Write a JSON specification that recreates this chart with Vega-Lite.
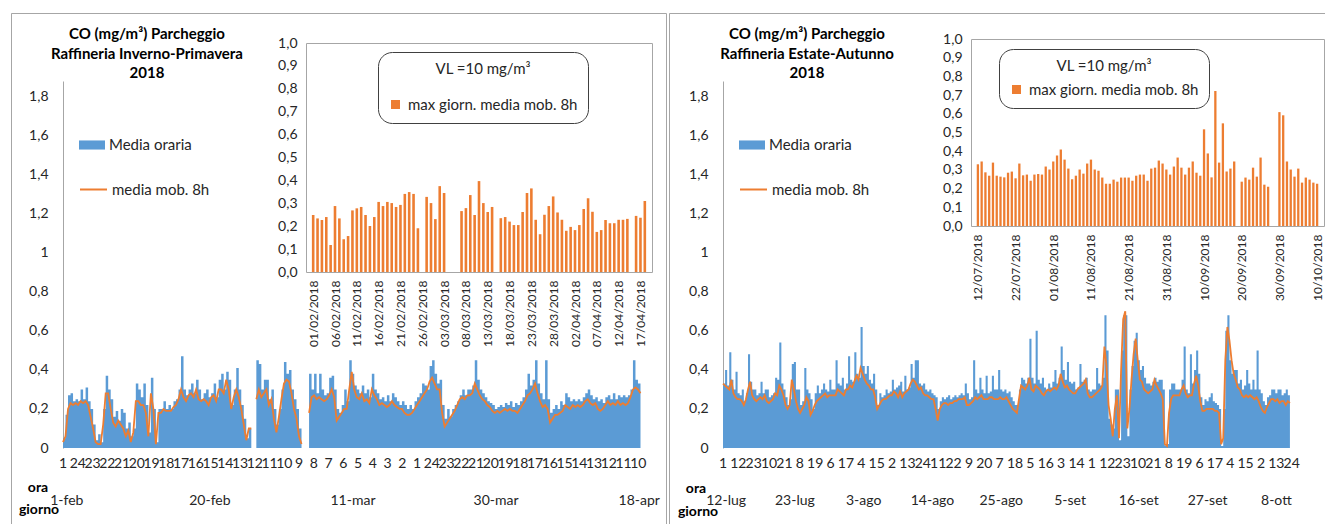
{
"$schema":"https://vega.github.io/schema/vega-lite/v6.json",
"background":"white",
"padding":{"left":10,"top":12,"right":0,"bottom":0},
"config":{"font":"Lato","view":{"stroke":null},
"locale":{"number":{"decimal":",","thousands":".","grouping":[3],"currency":["€",""]}},
"axis":{"labelFont":"Lato","labelColor":"#262626"},
"legend":{"labelFont":"Lato","titleFont":"Lato","labelColor":"#262626","titleColor":"#262626","labelLimit":400}},
"datasets":{
"mainL":[{"i":0,"h":0.05,"m":0.03},{"i":8,"h":0.17,"m":0.06},{"i":16,"h":0.27,"m":0.2},{"i":24,"h":0.28,"m":0.23},{"i":32,"h":0.24,"m":0.22},{"i":40,"h":0.25,"m":0.23},{"i":48,"h":0.24,"m":0.22},{"i":56,"h":0.3,"m":0.24},{"i":64,"h":0.25,"m":0.23},{"i":72,"h":0.31,"m":0.24},{"i":80,"h":0.24,"m":0.22},{"i":88,"h":0.2,"m":0.16},{"i":96,"h":0.12,"m":0.1},{"i":104,"h":0.04,"m":0.03},{"i":112,"h":0.07,"m":0.02},{"i":120,"h":0.03,"m":0.02},{"i":128,"h":0.2,"m":0.12},{"i":136,"h":0.37,"m":0.28},{"i":144,"h":0.3,"m":0.28},{"i":152,"h":0.25,"m":0.2},{"i":160,"h":0.16,"m":0.13},{"i":168,"h":0.19,"m":0.11},{"i":176,"h":0.14,"m":0.14},{"i":184,"h":0.2,"m":0.12},{"i":192,"h":0.18,"m":0.1},{"i":200,"h":0.1,"m":0.06},{"i":208,"h":0.13,"m":0.09},{"i":216,"h":0.06,"m":0.03},{"i":224,"h":0.1,"m":0.08},{"i":232,"h":0.33,"m":0.24},{"i":240,"h":0.3,"m":0.24},{"i":248,"h":0.26,"m":0.22},{"i":256,"h":0.33,"m":0.22},{"i":264,"h":0.22,"m":0.18},{"i":272,"h":0.08,"m":0.06},{"i":280,"h":0.36,"m":0.28},{"i":288,"h":0.2,"m":0.2},{"i":296,"h":0.03,"m":0.02},{"i":304,"h":0.2,"m":0.18},{"i":312,"h":0.2,"m":0.18},{"i":320,"h":0.24,"m":0.2},{"i":328,"h":0.2,"m":0.19},{"i":336,"h":0.22,"m":0.19},{"i":344,"h":0.2,"m":0.19},{"i":352,"h":0.24,"m":0.21},{"i":360,"h":0.25,"m":0.22},{"i":368,"h":0.3,"m":0.25},{"i":376,"h":0.47,"m":0.3},{"i":384,"h":0.3,"m":0.26},{"i":392,"h":0.27,"m":0.24},{"i":400,"h":0.3,"m":0.27},{"i":408,"h":0.33,"m":0.28},{"i":416,"h":0.28,"m":0.26},{"i":424,"h":0.35,"m":0.3},{"i":432,"h":0.3,"m":0.25},{"i":440,"h":0.25,"m":0.24},{"i":448,"h":0.28,"m":0.25},{"i":456,"h":0.3,"m":0.24},{"i":464,"h":0.26,"m":0.22},{"i":472,"h":0.28,"m":0.26},{"i":480,"h":0.33,"m":0.27},{"i":488,"h":0.26,"m":0.24},{"i":496,"h":0.35,"m":0.3},{"i":504,"h":0.38,"m":0.3},{"i":512,"h":0.3,"m":0.28},{"i":520,"h":0.39,"m":0.35},{"i":528,"h":0.35,"m":0.3},{"i":536,"h":0.22,"m":0.2},{"i":544,"h":0.3,"m":0.26},{"i":552,"h":0.41,"m":0.3},{"i":560,"h":0.3,"m":0.26},{"i":568,"h":0.22,"m":0.2},{"i":576,"h":0.15,"m":0.12},{"i":584,"h":0.05,"m":0.04},{"i":592,"h":0.1,"m":0.1},{"i":600,"h":0.1,"m":0.1},{"i":608,"h":null,"m":null},{"i":616,"h":0.45,"m":0.25},{"i":624,"h":0.43,"m":0.3},{"i":632,"h":0.3,"m":0.26},{"i":640,"h":0.35,"m":0.28},{"i":648,"h":0.35,"m":0.3},{"i":656,"h":0.25,"m":0.22},{"i":664,"h":0.3,"m":0.25},{"i":672,"h":0.2,"m":0.15},{"i":680,"h":0.12,"m":0.08},{"i":688,"h":0.2,"m":0.16},{"i":696,"h":0.3,"m":0.25},{"i":704,"h":0.44,"m":0.33},{"i":712,"h":0.38,"m":0.35},{"i":720,"h":0.4,"m":0.34},{"i":728,"h":0.3,"m":0.28},{"i":736,"h":0.25,"m":0.2},{"i":744,"h":0.2,"m":0.15},{"i":752,"h":0.1,"m":0.06},{"i":760,"h":0.05,"m":0.02},{"i":768,"h":null,"m":null},{"i":776,"h":null,"m":null},{"i":784,"h":0.38,"m":0.18},{"i":792,"h":0.3,"m":0.26},{"i":800,"h":0.38,"m":0.27},{"i":808,"h":0.28,"m":0.25},{"i":816,"h":0.38,"m":0.26},{"i":824,"h":0.3,"m":0.25},{"i":832,"h":0.27,"m":0.24},{"i":840,"h":0.28,"m":0.25},{"i":848,"h":0.36,"m":0.27},{"i":856,"h":0.37,"m":0.3},{"i":864,"h":0.3,"m":0.26},{"i":872,"h":0.2,"m":0.14},{"i":880,"h":0.18,"m":0.16},{"i":888,"h":0.22,"m":0.18},{"i":896,"h":0.3,"m":0.2},{"i":904,"h":0.24,"m":0.2},{"i":912,"h":0.45,"m":0.3},{"i":920,"h":0.38,"m":0.39},{"i":928,"h":0.32,"m":0.3},{"i":936,"h":0.3,"m":0.26},{"i":944,"h":0.28,"m":0.25},{"i":952,"h":0.32,"m":0.28},{"i":960,"h":0.28,"m":0.24},{"i":968,"h":0.3,"m":0.25},{"i":976,"h":0.26,"m":0.23},{"i":984,"h":0.38,"m":0.3},{"i":992,"h":0.3,"m":0.27},{"i":1000,"h":0.28,"m":0.25},{"i":1008,"h":0.25,"m":0.22},{"i":1016,"h":0.26,"m":0.23},{"i":1024,"h":0.24,"m":0.22},{"i":1032,"h":0.27,"m":0.21},{"i":1040,"h":0.24,"m":0.22},{"i":1048,"h":0.28,"m":0.24},{"i":1056,"h":0.26,"m":0.22},{"i":1064,"h":0.24,"m":0.21},{"i":1072,"h":0.22,"m":0.2},{"i":1080,"h":0.24,"m":0.2},{"i":1088,"h":0.22,"m":0.18},{"i":1096,"h":0.2,"m":0.17},{"i":1104,"h":0.22,"m":0.17},{"i":1112,"h":0.2,"m":0.18},{"i":1120,"h":0.24,"m":0.2},{"i":1128,"h":0.26,"m":0.22},{"i":1136,"h":0.28,"m":0.24},{"i":1144,"h":0.33,"m":0.26},{"i":1152,"h":0.32,"m":0.28},{"i":1160,"h":0.3,"m":0.3},{"i":1168,"h":0.42,"m":0.34},{"i":1176,"h":0.45,"m":0.36},{"i":1184,"h":0.38,"m":0.33},{"i":1192,"h":0.33,"m":0.3},{"i":1200,"h":0.35,"m":0.3},{"i":1208,"h":0.22,"m":0.18},{"i":1216,"h":0.15,"m":0.11},{"i":1224,"h":0.2,"m":0.13},{"i":1232,"h":0.16,"m":0.15},{"i":1240,"h":0.2,"m":0.17},{"i":1248,"h":0.22,"m":0.19},{"i":1256,"h":0.24,"m":0.22},{"i":1264,"h":0.27,"m":0.25},{"i":1272,"h":0.3,"m":0.26},{"i":1280,"h":0.27,"m":0.25},{"i":1288,"h":0.3,"m":0.27},{"i":1296,"h":0.3,"m":0.27},{"i":1304,"h":0.32,"m":0.28},{"i":1312,"h":0.45,"m":0.33},{"i":1320,"h":0.35,"m":0.3},{"i":1328,"h":0.3,"m":0.27},{"i":1336,"h":0.28,"m":0.25},{"i":1344,"h":0.26,"m":0.24},{"i":1352,"h":0.24,"m":0.22},{"i":1360,"h":0.23,"m":0.21},{"i":1368,"h":0.22,"m":0.19},{"i":1376,"h":0.2,"m":0.18},{"i":1384,"h":0.21,"m":0.19},{"i":1392,"h":0.22,"m":0.18},{"i":1400,"h":0.21,"m":0.19},{"i":1408,"h":0.23,"m":0.2},{"i":1416,"h":0.22,"m":0.19},{"i":1424,"h":0.24,"m":0.2},{"i":1432,"h":0.21,"m":0.19},{"i":1440,"h":0.23,"m":0.19},{"i":1448,"h":0.22,"m":0.18},{"i":1456,"h":0.24,"m":0.2},{"i":1464,"h":0.26,"m":0.22},{"i":1472,"h":0.3,"m":0.24},{"i":1480,"h":0.38,"m":0.27},{"i":1488,"h":0.32,"m":0.28},{"i":1496,"h":0.35,"m":0.3},{"i":1504,"h":0.45,"m":0.33},{"i":1512,"h":0.33,"m":0.28},{"i":1520,"h":0.28,"m":0.24},{"i":1528,"h":0.25,"m":0.21},{"i":1536,"h":0.45,"m":0.22},{"i":1544,"h":0.25,"m":0.2},{"i":1552,"h":0.18,"m":0.13},{"i":1560,"h":0.2,"m":0.15},{"i":1568,"h":0.22,"m":0.17},{"i":1576,"h":0.2,"m":0.17},{"i":1584,"h":0.24,"m":0.18},{"i":1592,"h":0.22,"m":0.19},{"i":1600,"h":0.28,"m":0.22},{"i":1608,"h":0.26,"m":0.21},{"i":1616,"h":0.24,"m":0.2},{"i":1624,"h":0.25,"m":0.22},{"i":1632,"h":0.24,"m":0.21},{"i":1640,"h":0.25,"m":0.22},{"i":1648,"h":0.24,"m":0.21},{"i":1656,"h":0.26,"m":0.22},{"i":1664,"h":0.28,"m":0.24},{"i":1672,"h":0.3,"m":0.25},{"i":1680,"h":0.27,"m":0.23},{"i":1688,"h":0.25,"m":0.22},{"i":1696,"h":0.26,"m":0.23},{"i":1704,"h":0.24,"m":0.2},{"i":1712,"h":0.25,"m":0.19},{"i":1720,"h":0.23,"m":0.2},{"i":1728,"h":0.26,"m":0.22},{"i":1736,"h":0.27,"m":0.24},{"i":1744,"h":0.25,"m":0.22},{"i":1752,"h":0.28,"m":0.23},{"i":1760,"h":0.25,"m":0.22},{"i":1768,"h":0.27,"m":0.24},{"i":1776,"h":0.26,"m":0.22},{"i":1784,"h":0.27,"m":0.23},{"i":1792,"h":0.26,"m":0.22},{"i":1800,"h":0.27,"m":0.23},{"i":1808,"h":0.3,"m":0.26},{"i":1816,"h":0.45,"m":0.3},{"i":1824,"h":0.35,"m":0.31},{"i":1832,"h":0.33,"m":0.3},{"i":1840,"h":0.3,"m":0.28}],
"mainR":[{"i":0,"h":0.33,"m":0.33},{"i":8,"h":0.4,"m":0.32},{"i":16,"h":0.32,"m":0.31},{"i":24,"h":0.49,"m":0.3},{"i":32,"h":0.35,"m":0.35},{"i":40,"h":0.3,"m":0.28},{"i":48,"h":0.39,"m":0.26},{"i":56,"h":0.28,"m":0.25},{"i":64,"h":0.27,"m":0.25},{"i":72,"h":0.3,"m":0.24},{"i":80,"h":0.24,"m":0.22},{"i":88,"h":0.28,"m":0.25},{"i":96,"h":0.48,"m":0.3},{"i":104,"h":0.34,"m":0.34},{"i":112,"h":0.3,"m":0.27},{"i":120,"h":0.3,"m":0.25},{"i":128,"h":0.27,"m":0.24},{"i":136,"h":0.28,"m":0.25},{"i":144,"h":0.34,"m":0.26},{"i":152,"h":0.28,"m":0.25},{"i":160,"h":0.3,"m":0.27},{"i":168,"h":0.3,"m":0.24},{"i":176,"h":0.26,"m":0.23},{"i":184,"h":0.27,"m":0.24},{"i":192,"h":0.28,"m":0.25},{"i":200,"h":0.36,"m":0.28},{"i":208,"h":0.35,"m":0.27},{"i":216,"h":0.54,"m":0.32},{"i":224,"h":0.33,"m":0.3},{"i":232,"h":0.3,"m":0.27},{"i":240,"h":0.26,"m":0.22},{"i":248,"h":0.22,"m":0.2},{"i":256,"h":0.25,"m":0.22},{"i":264,"h":0.43,"m":0.35},{"i":272,"h":0.44,"m":0.3},{"i":280,"h":0.3,"m":0.24},{"i":288,"h":0.3,"m":0.2},{"i":296,"h":0.22,"m":0.18},{"i":304,"h":0.24,"m":0.2},{"i":312,"h":0.41,"m":0.22},{"i":320,"h":0.3,"m":0.26},{"i":328,"h":0.28,"m":0.24},{"i":336,"h":0.25,"m":0.17},{"i":344,"h":0.2,"m":0.19},{"i":352,"h":0.28,"m":0.22},{"i":360,"h":0.32,"m":0.24},{"i":368,"h":0.28,"m":0.25},{"i":376,"h":0.3,"m":0.26},{"i":384,"h":0.33,"m":0.27},{"i":392,"h":0.3,"m":0.28},{"i":400,"h":0.29,"m":0.26},{"i":408,"h":0.35,"m":0.27},{"i":416,"h":0.3,"m":0.27},{"i":424,"h":0.3,"m":0.27},{"i":432,"h":0.45,"m":0.27},{"i":440,"h":0.33,"m":0.3},{"i":448,"h":0.32,"m":0.29},{"i":456,"h":0.36,"m":0.28},{"i":464,"h":0.3,"m":0.27},{"i":472,"h":0.33,"m":0.3},{"i":480,"h":0.47,"m":0.3},{"i":488,"h":0.35,"m":0.32},{"i":496,"h":0.34,"m":0.31},{"i":504,"h":0.49,"m":0.34},{"i":512,"h":0.38,"m":0.37},{"i":520,"h":0.36,"m":0.35},{"i":528,"h":0.62,"m":0.41},{"i":536,"h":0.42,"m":0.38},{"i":544,"h":0.38,"m":0.35},{"i":552,"h":0.42,"m":0.33},{"i":560,"h":0.35,"m":0.32},{"i":568,"h":0.33,"m":0.3},{"i":576,"h":0.38,"m":0.3},{"i":584,"h":0.3,"m":0.26},{"i":592,"h":0.22,"m":0.2},{"i":600,"h":0.28,"m":0.22},{"i":608,"h":0.26,"m":0.24},{"i":616,"h":0.27,"m":0.25},{"i":624,"h":0.3,"m":0.25},{"i":632,"h":0.28,"m":0.26},{"i":640,"h":0.29,"m":0.27},{"i":648,"h":0.35,"m":0.27},{"i":656,"h":0.3,"m":0.29},{"i":664,"h":0.31,"m":0.28},{"i":672,"h":0.32,"m":0.26},{"i":680,"h":0.34,"m":0.29},{"i":688,"h":0.29,"m":0.26},{"i":696,"h":0.37,"m":0.28},{"i":704,"h":0.3,"m":0.29},{"i":712,"h":0.31,"m":0.3},{"i":720,"h":0.43,"m":0.33},{"i":728,"h":0.36,"m":0.35},{"i":736,"h":0.45,"m":0.34},{"i":744,"h":0.45,"m":0.32},{"i":752,"h":0.33,"m":0.3},{"i":760,"h":0.32,"m":0.31},{"i":768,"h":0.33,"m":0.28},{"i":776,"h":0.3,"m":0.27},{"i":784,"h":0.29,"m":0.27},{"i":792,"h":0.3,"m":0.26},{"i":800,"h":0.28,"m":0.25},{"i":808,"h":0.27,"m":0.25},{"i":816,"h":0.26,"m":0.2},{"i":824,"h":0.2,"m":0.14},{"i":832,"h":0.24,"m":0.2},{"i":840,"h":0.26,"m":0.22},{"i":848,"h":0.25,"m":0.23},{"i":856,"h":0.26,"m":0.23},{"i":864,"h":0.27,"m":0.22},{"i":872,"h":0.25,"m":0.23},{"i":880,"h":0.26,"m":0.23},{"i":888,"h":0.27,"m":0.24},{"i":896,"h":0.26,"m":0.24},{"i":904,"h":0.27,"m":0.25},{"i":912,"h":0.28,"m":0.25},{"i":920,"h":0.27,"m":0.25},{"i":928,"h":0.33,"m":0.26},{"i":936,"h":0.28,"m":0.22},{"i":944,"h":0.25,"m":0.22},{"i":952,"h":0.26,"m":0.23},{"i":960,"h":0.45,"m":0.24},{"i":968,"h":0.3,"m":0.26},{"i":976,"h":0.28,"m":0.25},{"i":984,"h":0.36,"m":0.26},{"i":992,"h":0.3,"m":0.27},{"i":1000,"h":0.28,"m":0.25},{"i":1008,"h":0.37,"m":0.25},{"i":1016,"h":0.28,"m":0.25},{"i":1024,"h":0.29,"m":0.26},{"i":1032,"h":0.37,"m":0.26},{"i":1040,"h":0.3,"m":0.25},{"i":1048,"h":0.3,"m":0.25},{"i":1056,"h":0.4,"m":0.25},{"i":1064,"h":0.3,"m":0.26},{"i":1072,"h":0.29,"m":0.25},{"i":1080,"h":0.3,"m":0.25},{"i":1088,"h":0.28,"m":0.26},{"i":1096,"h":0.29,"m":0.24},{"i":1104,"h":0.26,"m":0.22},{"i":1112,"h":0.24,"m":0.2},{"i":1120,"h":0.22,"m":0.19},{"i":1128,"h":0.22,"m":0.18},{"i":1136,"h":0.3,"m":0.25},{"i":1144,"h":0.36,"m":0.32},{"i":1152,"h":0.35,"m":0.31},{"i":1160,"h":0.33,"m":0.3},{"i":1168,"h":0.36,"m":0.32},{"i":1176,"h":0.56,"m":0.36},{"i":1184,"h":0.36,"m":0.3},{"i":1192,"h":0.33,"m":0.29},{"i":1200,"h":0.6,"m":0.32},{"i":1208,"h":0.35,"m":0.31},{"i":1216,"h":0.33,"m":0.3},{"i":1224,"h":0.36,"m":0.28},{"i":1232,"h":0.31,"m":0.27},{"i":1240,"h":0.3,"m":0.29},{"i":1248,"h":0.33,"m":0.3},{"i":1256,"h":0.31,"m":0.29},{"i":1264,"h":0.34,"m":0.3},{"i":1272,"h":0.4,"m":0.31},{"i":1280,"h":0.33,"m":0.3},{"i":1288,"h":0.36,"m":0.32},{"i":1296,"h":0.52,"m":0.38},{"i":1304,"h":0.4,"m":0.34},{"i":1312,"h":0.35,"m":0.31},{"i":1320,"h":0.44,"m":0.32},{"i":1328,"h":0.34,"m":0.3},{"i":1336,"h":0.33,"m":0.29},{"i":1344,"h":0.34,"m":0.28},{"i":1352,"h":0.3,"m":0.28},{"i":1360,"h":0.31,"m":0.3},{"i":1368,"h":0.43,"m":0.31},{"i":1376,"h":0.34,"m":0.32},{"i":1384,"h":0.35,"m":0.33},{"i":1392,"h":0.36,"m":0.35},{"i":1400,"h":0.3,"m":0.28},{"i":1408,"h":0.29,"m":0.26},{"i":1416,"h":0.3,"m":0.26},{"i":1424,"h":0.3,"m":0.27},{"i":1432,"h":0.41,"m":0.28},{"i":1440,"h":0.33,"m":0.29},{"i":1448,"h":0.32,"m":0.3},{"i":1456,"h":0.36,"m":0.32},{"i":1464,"h":0.68,"m":0.52},{"i":1472,"h":0.5,"m":0.42},{"i":1480,"h":0.15,"m":0.22},{"i":1488,"h":0.12,"m":0.15},{"i":1496,"h":0.1,"m":0.06},{"i":1504,"h":0.3,"m":0.2},{"i":1512,"h":0.3,"m":0.27},{"i":1520,"h":0.04,"m":0.05},{"i":1528,"h":0.5,"m":0.4},{"i":1536,"h":0.68,"m":0.66},{"i":1544,"h":0.68,"m":0.7},{"i":1552,"h":0.06,"m":0.1},{"i":1560,"h":0.3,"m":0.2},{"i":1568,"h":0.42,"m":0.35},{"i":1576,"h":0.55,"m":0.48},{"i":1584,"h":0.59,"m":0.56},{"i":1592,"h":0.45,"m":0.45},{"i":1600,"h":0.4,"m":0.35},{"i":1608,"h":0.42,"m":0.34},{"i":1616,"h":0.36,"m":0.3},{"i":1624,"h":0.33,"m":0.29},{"i":1632,"h":0.33,"m":0.28},{"i":1640,"h":0.32,"m":0.29},{"i":1648,"h":0.34,"m":0.3},{"i":1656,"h":0.36,"m":0.35},{"i":1664,"h":0.34,"m":0.32},{"i":1672,"h":0.35,"m":0.3},{"i":1680,"h":0.35,"m":0.28},{"i":1688,"h":0.3,"m":0.25},{"i":1696,"h":0.01,"m":0.02},{"i":1704,"h":0.02,"m":0.01},{"i":1712,"h":0.3,"m":0.18},{"i":1720,"h":0.33,"m":0.25},{"i":1728,"h":0.33,"m":0.27},{"i":1736,"h":0.3,"m":0.27},{"i":1744,"h":0.3,"m":0.27},{"i":1752,"h":0.3,"m":0.27},{"i":1760,"h":0.35,"m":0.3},{"i":1768,"h":0.52,"m":0.32},{"i":1776,"h":0.3,"m":0.28},{"i":1784,"h":0.28,"m":0.26},{"i":1792,"h":0.48,"m":0.27},{"i":1800,"h":0.33,"m":0.27},{"i":1808,"h":0.4,"m":0.33},{"i":1816,"h":0.5,"m":0.37},{"i":1824,"h":0.38,"m":0.32},{"i":1832,"h":0.26,"m":0.24},{"i":1840,"h":0.22,"m":0.19},{"i":1848,"h":0.25,"m":0.19},{"i":1856,"h":0.24,"m":0.2},{"i":1864,"h":0.26,"m":0.2},{"i":1872,"h":0.28,"m":0.2},{"i":1880,"h":0.24,"m":0.2},{"i":1888,"h":0.23,"m":0.19},{"i":1896,"h":0.22,"m":0.19},{"i":1904,"h":0.2,"m":0.18},{"i":1912,"h":0.01,"m":0.02},{"i":1920,"h":0.2,"m":0.05},{"i":1928,"h":0.6,"m":0.45},{"i":1936,"h":0.68,"m":0.62},{"i":1944,"h":0.45,"m":0.55},{"i":1952,"h":0.38,"m":0.45},{"i":1960,"h":0.4,"m":0.38},{"i":1968,"h":0.4,"m":0.35},{"i":1976,"h":0.33,"m":0.31},{"i":1984,"h":0.35,"m":0.3},{"i":1992,"h":0.3,"m":0.27},{"i":2000,"h":0.32,"m":0.26},{"i":2008,"h":0.4,"m":0.27},{"i":2016,"h":0.33,"m":0.26},{"i":2024,"h":0.3,"m":0.27},{"i":2032,"h":0.35,"m":0.26},{"i":2040,"h":0.3,"m":0.25},{"i":2048,"h":0.5,"m":0.26},{"i":2056,"h":0.3,"m":0.24},{"i":2064,"h":0.28,"m":0.21},{"i":2072,"h":0.24,"m":0.19},{"i":2080,"h":0.22,"m":0.18},{"i":2088,"h":0.26,"m":0.21},{"i":2096,"h":0.27,"m":0.23},{"i":2104,"h":0.3,"m":0.25},{"i":2112,"h":0.3,"m":0.25},{"i":2120,"h":0.28,"m":0.24},{"i":2128,"h":0.3,"m":0.25},{"i":2136,"h":0.3,"m":0.23},{"i":2144,"h":0.27,"m":0.24},{"i":2152,"h":0.28,"m":0.24},{"i":2160,"h":0.3,"m":0.22},{"i":2168,"h":0.27,"m":0.24},{"i":2176,"h":0.28,"m":0.23}],
"insL":[{"t":"2018-02-01","v":0.249},{"t":"2018-02-02","v":0.234},{"t":"2018-02-03","v":0.227},{"t":"2018-02-04","v":0.24},{"t":"2018-02-05","v":0.118},{"t":"2018-02-06","v":0.288},{"t":"2018-02-07","v":0.234},{"t":"2018-02-08","v":0.143},{"t":"2018-02-09","v":0.157},{"t":"2018-02-10","v":0.269},{"t":"2018-02-11","v":0.278},{"t":"2018-02-12","v":0.284},{"t":"2018-02-13","v":0.249},{"t":"2018-02-14","v":0.201},{"t":"2018-02-15","v":0.24},{"t":"2018-02-16","v":0.306},{"t":"2018-02-17","v":0.288},{"t":"2018-02-18","v":0.306},{"t":"2018-02-19","v":0.301},{"t":"2018-02-20","v":0.284},{"t":"2018-02-21","v":0.293},{"t":"2018-02-22","v":0.341},{"t":"2018-02-23","v":0.349},{"t":"2018-02-24","v":0.341},{"t":"2018-02-25","v":0.191},{"t":"2018-02-27","v":0.328},{"t":"2018-02-28","v":0.301},{"t":"2018-03-01","v":0.231},{"t":"2018-03-02","v":0.375},{"t":"2018-03-03","v":0.345},{"t":"2018-03-07","v":0.266},{"t":"2018-03-08","v":0.279},{"t":"2018-03-09","v":0.336},{"t":"2018-03-10","v":0.249},{"t":"2018-03-11","v":0.397},{"t":"2018-03-12","v":0.301},{"t":"2018-03-13","v":0.262},{"t":"2018-03-14","v":0.284},{"t":"2018-03-16","v":0.235},{"t":"2018-03-17","v":0.24},{"t":"2018-03-18","v":0.22},{"t":"2018-03-19","v":0.205},{"t":"2018-03-20","v":0.205},{"t":"2018-03-21","v":0.262},{"t":"2018-03-22","v":0.345},{"t":"2018-03-23","v":0.365},{"t":"2018-03-24","v":0.228},{"t":"2018-03-25","v":0.165},{"t":"2018-03-26","v":0.25},{"t":"2018-03-27","v":0.288},{"t":"2018-03-28","v":0.33},{"t":"2018-03-29","v":0.26},{"t":"2018-03-30","v":0.228},{"t":"2018-03-31","v":0.18},{"t":"2018-04-01","v":0.197},{"t":"2018-04-02","v":0.183},{"t":"2018-04-03","v":0.205},{"t":"2018-04-04","v":0.275},{"t":"2018-04-05","v":0.322},{"t":"2018-04-06","v":0.263},{"t":"2018-04-07","v":0.175},{"t":"2018-04-08","v":0.183},{"t":"2018-04-09","v":0.227},{"t":"2018-04-10","v":0.213},{"t":"2018-04-11","v":0.213},{"t":"2018-04-12","v":0.228},{"t":"2018-04-13","v":0.228},{"t":"2018-04-14","v":0.232},{"t":"2018-04-16","v":0.245},{"t":"2018-04-17","v":0.237},{"t":"2018-04-18","v":0.31}],
"insR":[{"t":"2018-07-12","v":0.33},{"t":"2018-07-13","v":0.345},{"t":"2018-07-14","v":0.287},{"t":"2018-07-15","v":0.269},{"t":"2018-07-16","v":0.339},{"t":"2018-07-17","v":0.269},{"t":"2018-07-18","v":0.264},{"t":"2018-07-19","v":0.26},{"t":"2018-07-20","v":0.285},{"t":"2018-07-21","v":0.291},{"t":"2018-07-22","v":0.255},{"t":"2018-07-23","v":0.334},{"t":"2018-07-24","v":0.271},{"t":"2018-07-25","v":0.275},{"t":"2018-07-26","v":0.242},{"t":"2018-07-27","v":0.275},{"t":"2018-07-28","v":0.278},{"t":"2018-07-29","v":0.275},{"t":"2018-07-30","v":0.318},{"t":"2018-07-31","v":0.302},{"t":"2018-08-01","v":0.345},{"t":"2018-08-02","v":0.377},{"t":"2018-08-03","v":0.409},{"t":"2018-08-04","v":0.355},{"t":"2018-08-05","v":0.307},{"t":"2018-08-06","v":0.25},{"t":"2018-08-07","v":0.269},{"t":"2018-08-08","v":0.302},{"t":"2018-08-09","v":0.28},{"t":"2018-08-10","v":0.334},{"t":"2018-08-11","v":0.355},{"t":"2018-08-12","v":0.302},{"t":"2018-08-13","v":0.296},{"t":"2018-08-14","v":0.259},{"t":"2018-08-15","v":0.226},{"t":"2018-08-16","v":0.226},{"t":"2018-08-17","v":0.248},{"t":"2018-08-18","v":0.237},{"t":"2018-08-19","v":0.259},{"t":"2018-08-20","v":0.259},{"t":"2018-08-21","v":0.259},{"t":"2018-08-22","v":0.242},{"t":"2018-08-23","v":0.269},{"t":"2018-08-24","v":0.275},{"t":"2018-08-25","v":0.275},{"t":"2018-08-26","v":0.242},{"t":"2018-08-27","v":0.307},{"t":"2018-08-28","v":0.312},{"t":"2018-08-29","v":0.35},{"t":"2018-08-30","v":0.334},{"t":"2018-08-31","v":0.302},{"t":"2018-09-01","v":0.275},{"t":"2018-09-02","v":0.318},{"t":"2018-09-03","v":0.366},{"t":"2018-09-04","v":0.312},{"t":"2018-09-05","v":0.275},{"t":"2018-09-06","v":0.312},{"t":"2018-09-07","v":0.345},{"t":"2018-09-08","v":0.285},{"t":"2018-09-09","v":0.269},{"t":"2018-09-10","v":0.517},{"t":"2018-09-11","v":0.388},{"t":"2018-09-12","v":0.26},{"t":"2018-09-13","v":0.722},{"t":"2018-09-14","v":0.339},{"t":"2018-09-15","v":0.549},{"t":"2018-09-16","v":0.291},{"t":"2018-09-17","v":0.307},{"t":"2018-09-18","v":0.345},{"t":"2018-09-20","v":0.237},{"t":"2018-09-21","v":0.259},{"t":"2018-09-22","v":0.248},{"t":"2018-09-23","v":0.312},{"t":"2018-09-24","v":0.264},{"t":"2018-09-25","v":0.366},{"t":"2018-09-26","v":0.221},{"t":"2018-09-27","v":0.21},{"t":"2018-09-30","v":0.609},{"t":"2018-10-01","v":0.592},{"t":"2018-10-02","v":0.345},{"t":"2018-10-03","v":0.302},{"t":"2018-10-04","v":0.264},{"t":"2018-10-05","v":0.307},{"t":"2018-10-06","v":0.232},{"t":"2018-10-07","v":0.259},{"t":"2018-10-08","v":0.248},{"t":"2018-10-09","v":0.232},{"t":"2018-10-10","v":0.226}],
"hrsL":[{"i":0,"l":"1"},{"i":47,"l":"24"},{"i":94,"l":"23"},{"i":141,"l":"22"},{"i":188,"l":"21"},{"i":235,"l":"20"},{"i":282,"l":"19"},{"i":329,"l":"18"},{"i":376,"l":"17"},{"i":423,"l":"16"},{"i":470,"l":"15"},{"i":517,"l":"14"},{"i":564,"l":"13"},{"i":611,"l":"12"},{"i":658,"l":"11"},{"i":705,"l":"10"},{"i":752,"l":"9"},{"i":799,"l":"8"},{"i":846,"l":"7"},{"i":893,"l":"6"},{"i":940,"l":"5"},{"i":987,"l":"4"},{"i":1034,"l":"3"},{"i":1081,"l":"2"},{"i":1128,"l":"1"},{"i":1175,"l":"24"},{"i":1222,"l":"23"},{"i":1269,"l":"22"},{"i":1316,"l":"21"},{"i":1363,"l":"20"},{"i":1410,"l":"19"},{"i":1457,"l":"18"},{"i":1504,"l":"17"},{"i":1551,"l":"16"},{"i":1598,"l":"15"},{"i":1645,"l":"14"},{"i":1692,"l":"13"},{"i":1739,"l":"12"},{"i":1786,"l":"11"},{"i":1833,"l":"10"}],
"hrsR":[{"i":0,"l":"1"},{"i":59,"l":"12"},{"i":118,"l":"23"},{"i":177,"l":"10"},{"i":236,"l":"21"},{"i":295,"l":"8"},{"i":354,"l":"19"},{"i":413,"l":"6"},{"i":472,"l":"17"},{"i":531,"l":"4"},{"i":590,"l":"15"},{"i":649,"l":"2"},{"i":708,"l":"13"},{"i":767,"l":"24"},{"i":826,"l":"11"},{"i":885,"l":"22"},{"i":944,"l":"9"},{"i":1003,"l":"20"},{"i":1062,"l":"7"},{"i":1121,"l":"18"},{"i":1180,"l":"5"},{"i":1239,"l":"16"},{"i":1298,"l":"3"},{"i":1357,"l":"14"},{"i":1416,"l":"1"},{"i":1475,"l":"12"},{"i":1534,"l":"23"},{"i":1593,"l":"10"},{"i":1652,"l":"21"},{"i":1711,"l":"8"},{"i":1770,"l":"19"},{"i":1829,"l":"6"},{"i":1888,"l":"17"},{"i":1947,"l":"4"},{"i":2006,"l":"15"},{"i":2065,"l":"2"},{"i":2124,"l":"13"},{"i":2183,"l":"24"}],
"dayL":[{"i":12,"l":"1-feb"},{"i":468,"l":"20-feb"},{"i":924,"l":"11-mar"},{"i":1380,"l":"30-mar"},{"i":1836,"l":"18-apr"}],
"dayR":[{"i":12,"l":"12-lug"},{"i":276,"l":"23-lug"},{"i":540,"l":"3-ago"},{"i":804,"l":"14-ago"},{"i":1068,"l":"25-ago"},{"i":1332,"l":"5-set"},{"i":1596,"l":"16-set"},{"i":1860,"l":"27-set"},{"i":2124,"l":"8-ott"}]
},
"bounds":"flush",
"spacing":658,
"resolve":{"scale":{"fill":"independent","stroke":"independent"},"legend":{"fill":"independent","stroke":"independent"}},
"hconcat":[
{"bounds":"flush","spacing":52,
"resolve":{"scale":{"fill":"independent","stroke":"independent"},"legend":{"fill":"independent","stroke":"independent"}},
"hconcat":[
{"bounds":"flush","vconcat":[{"width":655,"height":511,"data":{"values":[]},"mark":"point","view":{"stroke":"#a6a6a6","strokeWidth":1,"fill":"white","strokeDash":[1166,655,520,10]}}]},
{"bounds":"flush","spacing":243,
"resolve":{"scale":{"fill":"independent","stroke":"independent"},"legend":{"fill":"independent","stroke":"independent"}},
"hconcat":[
{"bounds":"flush","spacing":0,
"resolve":{"scale":{"fill":"independent","stroke":"independent"},"legend":{"fill":"independent","stroke":"independent"}},
"vconcat":[
{"width":1,"height":68,"data":{"values":[]},"mark":"point"},
{"width":580,"height":367,
"title":{"text":["CO (mg/m³)  Parcheggio","Raffineria Inverno-Primavera","2018"],"frame":"group","anchor":"start","align":"center","dx":84,"baseline":"bottom","offset":-15,"fontSize":15,"fontWeight":"bold","color":"#000000","lineHeight":19.5},
"layer":[
{"data":{"name":"mainL"},"mark":{"type":"area","interpolate":"step-after","opacity":1},
"encoding":{"x":{"field":"i","type":"quantitative","scale":{"domain":[0,1848],"nice":false,"zero":false},"axis":null},
"y":{"field":"h","type":"quantitative","title":null,"scale":{"domain":[0,1.88],"nice":false},"axis":{"values":[0,0.2,0.4,0.6,0.8,1,1.2,1.4,1.6,1.8],"format":".1~f","ticks":false,"grid":false,"domainColor":"#a6a6a6","labelFontSize":14,"labelPadding":15,"title":null}},
"fill":{"datum":"Media oraria","type":"nominal","scale":{"range":["#5B9BD5"]},"legend":{"orient":"none","legendX":16,"legendY":51,"title":null,"symbolType":"M-1,-0.35H1V0.35H-1Z","symbolSize":676,"symbolStrokeWidth":0,"labelFontSize":15,"labelOffset":4,"padding":0}}}},
{"data":{"name":"mainL"},"mark":{"type":"line","strokeWidth":1.8},
"encoding":{"x":{"field":"i","type":"quantitative","axis":null},"y":{"field":"m","type":"quantitative","title":null},
"stroke":{"datum":"media mob. 8h","type":"nominal","scale":{"range":["#ED7D31"]},"legend":{"orient":"none","legendX":16,"legendY":94,"title":null,"symbolType":"stroke","symbolSize":729,"symbolStrokeWidth":2,"labelFontSize":15,"labelOffset":4,"padding":0}}}},
{"data":{"name":"hrsL"},"mark":{"type":"text","fontSize":14,"color":"#262626","dy":16},"encoding":{"x":{"field":"i","type":"quantitative","axis":null},"y":{"datum":0},"text":{"field":"l","type":"nominal"}}},
{"data":{"name":"dayL"},"mark":{"type":"text","fontSize":14,"color":"#262626","dy":53},"encoding":{"x":{"field":"i","type":"quantitative","axis":null},"y":{"datum":0},"text":{"field":"l","type":"nominal"}}},
{"data":{"values":[{"l":"ora"}]},"mark":{"type":"text","fontSize":14,"fontWeight":"bold","color":"#000000","dx":-25,"dy":40},"encoding":{"x":{"datum":0,"axis":null},"y":{"datum":0},"text":{"field":"l","type":"nominal"}}},
{"data":{"values":[{"l":"giorno"}]},"mark":{"type":"text","fontSize":14,"fontWeight":"bold","color":"#000000","dx":-24,"dy":62},"encoding":{"x":{"datum":0,"axis":null},"y":{"datum":0},"text":{"field":"l","type":"nominal"}}}
]}
]},
{"bounds":"flush","spacing":0,
"resolve":{"scale":{"fill":"independent","stroke":"independent"},"legend":{"fill":"independent","stroke":"independent"}},
"vconcat":[
{"width":1,"height":30,"data":{"values":[]},"mark":"point"},
{"width":346,"height":229,"data":{"name":"insL"},"view":{"stroke":"#a6a6a6","strokeWidth":1},
"mark":{"type":"bar","size":2.6},
"encoding":{
"x":{"field":"t","type":"temporal","title":null,"scale":{"type":"utc","domain":[{"year":2018,"month":1,"date":31,"hours":12,"utc":true},{"year":2018,"month":4,"date":18,"hours":12,"utc":true}]},
"axis":{"values":[{"year":2018,"month":2,"date":1,"utc":true},{"year":2018,"month":2,"date":6,"utc":true},{"year":2018,"month":2,"date":11,"utc":true},{"year":2018,"month":2,"date":16,"utc":true},{"year":2018,"month":2,"date":21,"utc":true},{"year":2018,"month":2,"date":26,"utc":true},{"year":2018,"month":3,"date":3,"utc":true},{"year":2018,"month":3,"date":8,"utc":true},{"year":2018,"month":3,"date":13,"utc":true},{"year":2018,"month":3,"date":18,"utc":true},{"year":2018,"month":3,"date":23,"utc":true},{"year":2018,"month":3,"date":28,"utc":true},{"year":2018,"month":4,"date":2,"utc":true},{"year":2018,"month":4,"date":7,"utc":true},{"year":2018,"month":4,"date":12,"utc":true},{"year":2018,"month":4,"date":17,"utc":true}],"format":"%d/%m/%Y","labelAngle":270,"labelFontSize":12,"labelPadding":8,"ticks":false,"domain":false,"grid":false}},
"y":{"field":"v","type":"quantitative","title":null,"scale":{"domain":[0,1],"nice":false},"axis":{"values":[0,0.1,0.2,0.3,0.4,0.5,0.6,0.7,0.8,0.9,1],"format":".1f","labelFontSize":14,"labelPadding":9,"ticks":false,"domain":false,"grid":false}},
"fill":{"datum":"max giorn. media mob. 8h","type":"nominal","scale":{"range":["#ED7D31"]},"legend":{"orient":"none","legendX":72,"legendY":9,"title":"VL =10 mg/m³","titleFontSize":15,"titleFontWeight":"normal","titleAnchor":"middle","titleAlign":"center","titlePadding":20,"labelFontSize":15,"labelLimit":400,"symbolType":"square","symbolSize":81,"symbolStrokeWidth":0,"padding":10,"strokeColor":"#404040","cornerRadius":14,"fillColor":"white","labelOffset":5}}}}
]}
]}
]},
{"bounds":"flush","spacing":54,
"resolve":{"scale":{"fill":"independent","stroke":"independent"},"legend":{"fill":"independent","stroke":"independent"}},
"hconcat":[
{"bounds":"flush","vconcat":[{"width":656,"height":511,"data":{"values":[]},"mark":"point","view":{"stroke":"#a6a6a6","strokeWidth":1,"fill":"white","strokeDash":[656,1167,520,10]}}]},
{"bounds":"flush","spacing":248,
"resolve":{"scale":{"fill":"independent","stroke":"independent"},"legend":{"fill":"independent","stroke":"independent"}},
"hconcat":[
{"bounds":"flush","spacing":0,
"resolve":{"scale":{"fill":"independent","stroke":"independent"},"legend":{"fill":"independent","stroke":"independent"}},
"vconcat":[
{"width":1,"height":68,"data":{"values":[]},"mark":"point"},
{"width":569,"height":367,
"title":{"text":["CO (mg/m³)  Parcheggio","Raffineria Estate-Autunno","2018"],"frame":"group","anchor":"start","align":"center","dx":84,"baseline":"bottom","offset":-15,"fontSize":15,"fontWeight":"bold","color":"#000000","lineHeight":19.5},
"layer":[
{"data":{"name":"mainR"},"mark":{"type":"area","interpolate":"step-after","opacity":1},
"encoding":{"x":{"field":"i","type":"quantitative","scale":{"domain":[0,2184],"nice":false,"zero":false},"axis":null},
"y":{"field":"h","type":"quantitative","title":null,"scale":{"domain":[0,1.88],"nice":false},"axis":{"values":[0,0.2,0.4,0.6,0.8,1,1.2,1.4,1.6,1.8],"format":".1~f","ticks":false,"grid":false,"domainColor":"#a6a6a6","labelFontSize":14,"labelPadding":15,"title":null}},
"fill":{"datum":"Media oraria","type":"nominal","scale":{"range":["#5B9BD5"]},"legend":{"orient":"none","legendX":16,"legendY":51,"title":null,"symbolType":"M-1,-0.35H1V0.35H-1Z","symbolSize":676,"symbolStrokeWidth":0,"labelFontSize":15,"labelOffset":4,"padding":0}}}},
{"data":{"name":"mainR"},"mark":{"type":"line","strokeWidth":1.8},
"encoding":{"x":{"field":"i","type":"quantitative","axis":null},"y":{"field":"m","type":"quantitative","title":null},
"stroke":{"datum":"media mob. 8h","type":"nominal","scale":{"range":["#ED7D31"]},"legend":{"orient":"none","legendX":16,"legendY":94,"title":null,"symbolType":"stroke","symbolSize":729,"symbolStrokeWidth":2,"labelFontSize":15,"labelOffset":4,"padding":0}}}},
{"data":{"name":"hrsR"},"mark":{"type":"text","fontSize":14,"color":"#262626","dy":16},"encoding":{"x":{"field":"i","type":"quantitative","axis":null},"y":{"datum":0},"text":{"field":"l","type":"nominal"}}},
{"data":{"name":"dayR"},"mark":{"type":"text","fontSize":14,"color":"#262626","dy":53},"encoding":{"x":{"field":"i","type":"quantitative","axis":null},"y":{"datum":0},"text":{"field":"l","type":"nominal"}}},
{"data":{"values":[{"l":"ora"}]},"mark":{"type":"text","fontSize":14,"fontWeight":"bold","color":"#000000","dx":-27,"dy":41},"encoding":{"x":{"datum":0,"axis":null},"y":{"datum":0},"text":{"field":"l","type":"nominal"}}},
{"data":{"values":[{"l":"giorno"}]},"mark":{"type":"text","fontSize":14,"fontWeight":"bold","color":"#000000","dx":-25,"dy":64},"encoding":{"x":{"datum":0,"axis":null},"y":{"datum":0},"text":{"field":"l","type":"nominal"}}}
]}
]},
{"bounds":"flush","spacing":0,
"resolve":{"scale":{"fill":"independent","stroke":"independent"},"legend":{"fill":"independent","stroke":"independent"}},
"vconcat":[
{"width":1,"height":26,"data":{"values":[]},"mark":"point"},
{"width":353,"height":187,"data":{"name":"insR"},"view":{"stroke":"#a6a6a6","strokeWidth":1},
"mark":{"type":"bar","size":2.3},
"encoding":{
"x":{"field":"t","type":"temporal","title":null,"scale":{"type":"utc","domain":[{"year":2018,"month":7,"date":11,"hours":12,"utc":true},{"year":2018,"month":10,"date":10,"hours":12,"utc":true}]},
"axis":{"values":[{"year":2018,"month":7,"date":12,"utc":true},{"year":2018,"month":7,"date":22,"utc":true},{"year":2018,"month":8,"date":1,"utc":true},{"year":2018,"month":8,"date":11,"utc":true},{"year":2018,"month":8,"date":21,"utc":true},{"year":2018,"month":8,"date":31,"utc":true},{"year":2018,"month":9,"date":10,"utc":true},{"year":2018,"month":9,"date":20,"utc":true},{"year":2018,"month":9,"date":30,"utc":true},{"year":2018,"month":10,"date":10,"utc":true}],"format":"%d/%m/%Y","labelAngle":270,"labelFontSize":12,"labelPadding":8,"ticks":false,"domain":false,"grid":false}},
"y":{"field":"v","type":"quantitative","title":null,"scale":{"domain":[0,1],"nice":false},"axis":{"values":[0,0.1,0.2,0.3,0.4,0.5,0.6,0.7,0.8,0.9,1],"format":".1f","labelFontSize":14,"labelPadding":9,"ticks":false,"domain":false,"grid":false}},
"fill":{"datum":"max giorn. media mob. 8h","type":"nominal","scale":{"range":["#ED7D31"]},"legend":{"orient":"none","legendX":28,"legendY":10,"title":"VL =10 mg/m³","titleFontSize":15,"titleFontWeight":"normal","titleAnchor":"middle","titleAlign":"center","titlePadding":8,"labelFontSize":15,"labelLimit":400,"symbolType":"square","symbolSize":81,"symbolStrokeWidth":0,"padding":10,"strokeColor":"#404040","cornerRadius":14,"fillColor":"white","labelOffset":5}}}}
]}
]}
]}
]
}
